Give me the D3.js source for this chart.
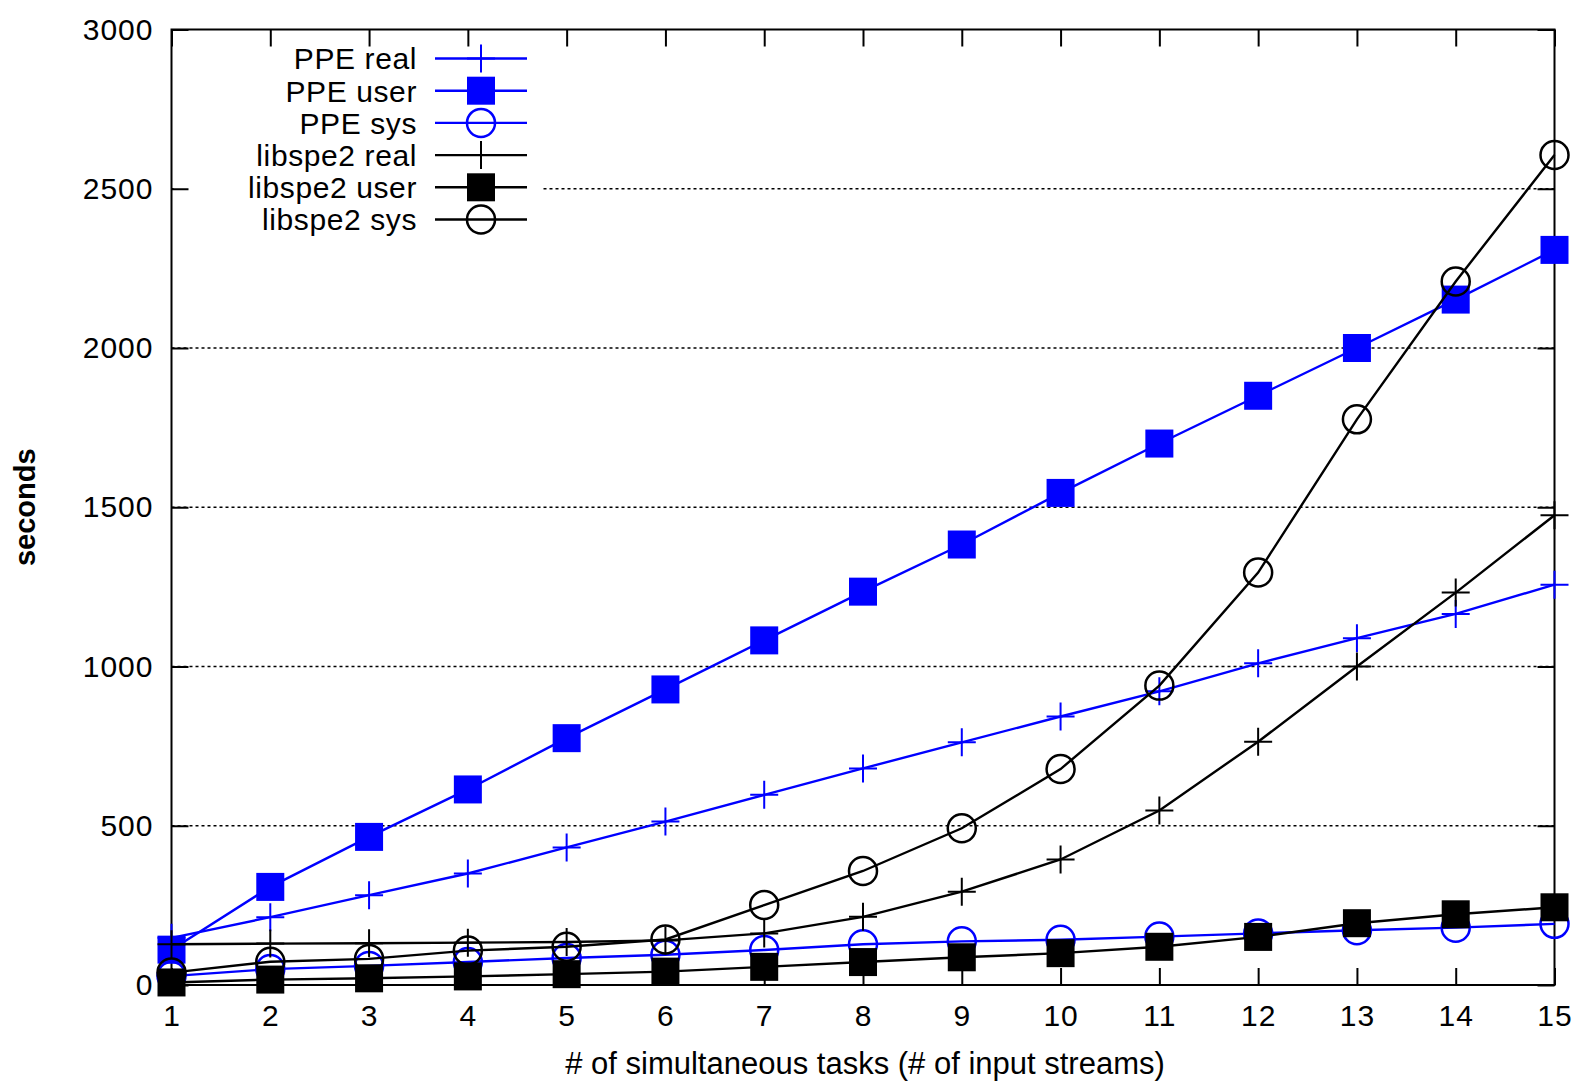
<!DOCTYPE html>
<html>
<head>
<meta charset="utf-8">
<script src="https://cdn.jsdelivr.net/npm/d3@7"></script>
<style>
  html, body { margin: 0; padding: 0; background: #fff; }
  svg { display: block; }
  text { font-family: "Liberation Sans", Arial, Helvetica, sans-serif; fill: #000; }
</style>
</head>
<body>
<svg id="chart" width="1581" height="1082"></svg>
<script>
// ---- data ----
const tasks = [1, 2, 3, 4, 5, 6, 7, 8, 9, 10, 11, 12, 13, 14, 15];
const ppeReal  = [148, 213, 282, 350, 432, 513, 597, 680, 762, 843, 922, 1010, 1089, 1165, 1257];
const ppeUser  = [111, 308, 465, 614, 775, 928, 1082, 1235, 1383, 1545, 1700, 1850, 2000, 2152, 2308];
const ppeSys   = [28, 50, 60, 72, 85, 95, 110, 128, 137, 142, 152, 162, 172, 180, 192];
const speReal  = [128, 130, 131, 133, 135, 140, 162, 214, 293, 394, 548, 764, 1000, 1232, 1475];
const speUser  = [8, 17, 21, 27, 34, 42, 57, 72, 87, 100, 120, 151, 194, 222, 244];
const speSys   = [39, 73, 82, 108, 120, 143, 251, 358, 492, 678, 940, 1295, 1776, 2209, 2606];
const seriesNames = ["PPE real", "PPE user", "PPE sys", "libspe2 real", "libspe2 user", "libspe2 sys"];
const seriesColors = ["#0000ff", "#0000ff", "#0000ff", "#000000", "#000000", "#000000"];
const seriesMarkers = ["plus", "square", "circle", "plus", "square", "circle"];
const yTicks = [0, 500, 1000, 1500, 2000, 2500, 3000];
const gridTicks = [500, 1000, 1500, 2000, 2500];
const xLabel = "# of simultaneous tasks (# of input streams)";
const yLabel = "seconds";

const seriesValues = [ppeReal, ppeUser, ppeSys, speReal, speUser, speSys];

// ---- layout ----
const L = 171.5, R = 1554.5, T = 29.5, B = 985;
const svg = d3.select("#chart");
const x = d3.scaleLinear().domain([1, 15]).range([L, R]);
const y = d3.scaleLinear().domain([0, 3000]).range([B, T]);

const FONT = 30;
const MS = 14; // marker half-size

// grid
svg.append("g").selectAll("line").data(gridTicks).join("line")
  .attr("x1", L).attr("x2", R)
  .attr("y1", d => y(d)).attr("y2", d => y(d))
  .attr("stroke", "#000").attr("stroke-width", 1.5)
  .attr("stroke-dasharray", "3,3");

// legend background (erases grid)
svg.append("rect").attr("x", L + 2).attr("y", T + 2).attr("width", 542 - L - 2).attr("height", 238 - T)
  .attr("fill", "#fff");

// axes using d3 axis generators (ticks inside, mirrored)
const tickLen = 17;
const yAxisL = d3.axisLeft(y).tickValues(yTicks).tickSize(-tickLen).tickPadding(18).tickFormat(d3.format("d"));
const yAxisR = d3.axisRight(y).tickValues(yTicks).tickSize(-tickLen).tickFormat("");
const xAxisB = d3.axisBottom(x).tickValues(tasks).tickSize(-tickLen).tickPadding(41).tickFormat(d3.format("d"));
const xAxisT = d3.axisTop(x).tickValues(tasks).tickSize(-tickLen).tickFormat("");

function styleAxis(g) {
  g.select(".domain").remove();
  g.selectAll(".tick line").attr("stroke", "#000").attr("stroke-width", 2);
  g.selectAll(".tick text").attr("font-size", FONT).attr("fill", "#000")
    .attr("font-family", '"Liberation Sans", Arial, sans-serif').attr("letter-spacing", 1);
}
svg.append("g").attr("transform", `translate(${L},0)`).call(yAxisL).call(styleAxis);
svg.append("g").attr("transform", `translate(${R},0)`).call(yAxisR).call(styleAxis);
svg.append("g").attr("transform", `translate(0,${B})`).call(xAxisB).call(styleAxis)
  .selectAll(".tick text").attr("dy", "0");
svg.append("g").attr("transform", `translate(0,${T})`).call(xAxisT).call(styleAxis);

// border
svg.append("rect").attr("x", L).attr("y", T).attr("width", R - L).attr("height", B - T)
  .attr("fill", "none").attr("stroke", "#000").attr("stroke-width", 2);

// axis titles
svg.append("text").attr("x", (L + R) / 2 + 2).attr("y", 1074)
  .attr("text-anchor", "middle").attr("font-size", 31).text(xLabel);
svg.append("text").attr("transform", `translate(35,${(T + B) / 2}) rotate(-90)`)
  .attr("text-anchor", "middle").attr("font-size", 29).attr("font-weight", "bold").text(yLabel);

// marker drawing
function drawMarker(g, type, cx, cy, color) {
  if (type === "plus") {
    g.append("path").attr("d", `M${cx - MS},${cy}H${cx + MS}M${cx},${cy - MS}V${cy + MS}`)
      .attr("stroke", color).attr("stroke-width", 2).attr("fill", "none");
  } else if (type === "square") {
    g.append("rect").attr("x", cx - MS).attr("y", cy - MS).attr("width", 2 * MS).attr("height", 2 * MS)
      .attr("fill", color);
  } else {
    g.append("circle").attr("cx", cx).attr("cy", cy).attr("r", MS)
      .attr("fill", "none").attr("stroke", color).attr("stroke-width", 2.5);
  }
}

// series
const line = d3.line().x(d => x(d[0])).y(d => y(d[1]));
seriesValues.forEach((vals, i) => {
  const g = svg.append("g");
  const pts = tasks.map((t, j) => [t, vals[j]]);
  g.append("path").attr("d", line(pts)).attr("fill", "none")
    .attr("stroke", seriesColors[i]).attr("stroke-width", 2.4);
  pts.forEach(p => drawMarker(g, seriesMarkers[i], x(p[0]), y(p[1]), seriesColors[i]));
});

// legend
const legTextX = 417, legLine0 = 435, legLine1 = 527, legMark = 481;
const legY0 = 58.5, legDY = 32.2;
seriesNames.forEach((name, i) => {
  const g = svg.append("g");
  const cy = legY0 + i * legDY;
  g.append("text").attr("x", legTextX).attr("y", cy).attr("dy", "0.36em")
    .attr("text-anchor", "end").attr("font-size", FONT).attr("letter-spacing", 0.6).text(name);
  g.append("line").attr("x1", legLine0).attr("x2", legLine1).attr("y1", cy).attr("y2", cy)
    .attr("stroke", seriesColors[i]).attr("stroke-width", 2.4);
  drawMarker(g, seriesMarkers[i], legMark, cy, seriesColors[i]);
});
</script>
</body>
</html>
